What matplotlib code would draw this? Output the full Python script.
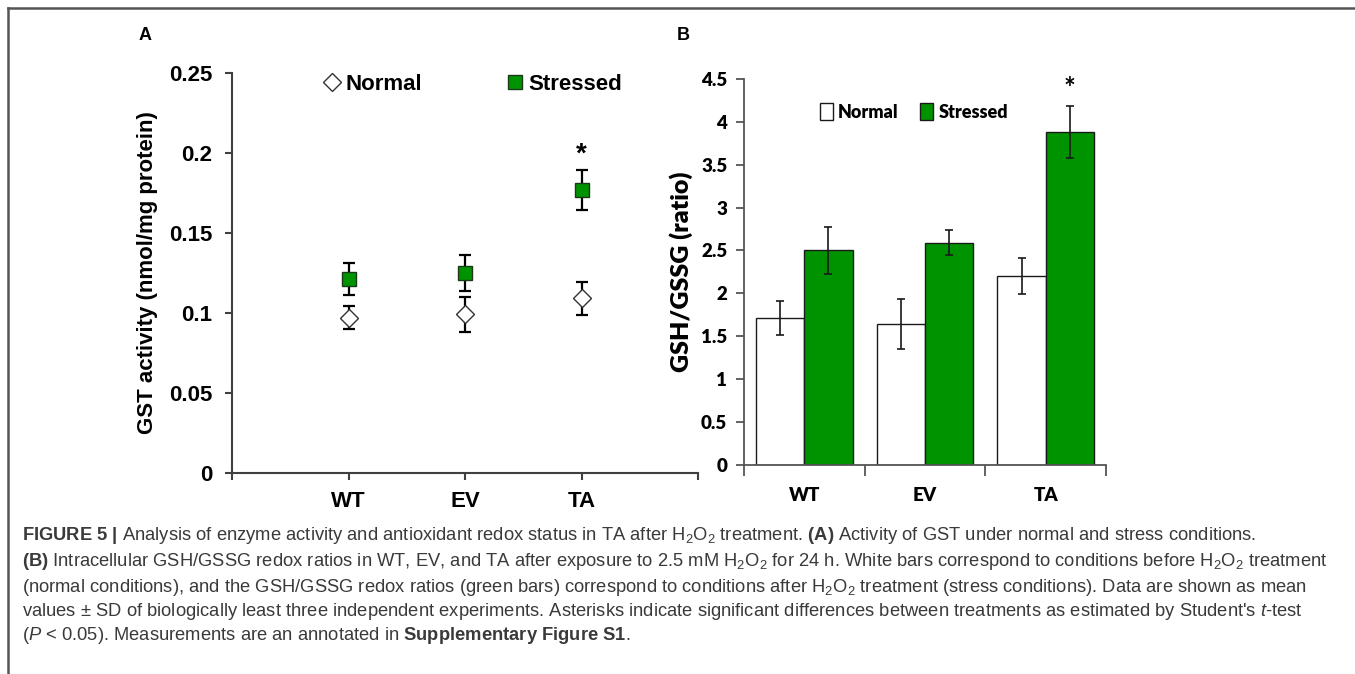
import numpy as np
import matplotlib
matplotlib.use("Agg")
import matplotlib.pyplot as plt
from matplotlib.lines import Line2D

# ---------------- data ----------------
categories = ["WT", "EV", "TA"]

# Panel A: GST activity (nmol/mg protein)
gst_normal = [0.097, 0.099, 0.109]
gst_normal_sd = [0.007, 0.011, 0.0105]
gst_stressed = [0.121, 0.125, 0.177]
gst_stressed_sd = [0.010, 0.0113, 0.0125]
gst_yticks = [0, 0.05, 0.1, 0.15, 0.2, 0.25]
gst_yticklabels = ["0", "0.05", "0.1", "0.15", "0.2", "0.25"]

# Panel B: GSH/GSSG ratio
ratio_normal = [1.71, 1.64, 2.20]
ratio_normal_sd = [0.20, 0.295, 0.21]
ratio_stressed = [2.50, 2.59, 3.88]
ratio_stressed_sd = [0.27, 0.145, 0.305]
ratio_yticks = [0, 0.5, 1, 1.5, 2, 2.5, 3, 3.5, 4, 4.5]
ratio_yticklabels = ["0", "0.5", "1", "1.5", "2", "2.5", "3", "3.5", "4", "4.5"]

significant = [False, False, True]

GREEN = "#009300"

plt.rcParams["mathtext.fontset"] = "custom"
plt.rcParams["mathtext.rm"] = "Liberation Sans"
plt.rcParams["mathtext.bf"] = "Liberation Sans:bold"
plt.rcParams["mathtext.it"] = "Liberation Sans:italic"
plt.rcParams["mathtext.default"] = "regular"

W, H = 1355, 674
fig = plt.figure(figsize=(W / 100, H / 100), dpi=100)

def fx(px):
    return px / W

def fy(py):
    return 1 - py / H

# outer frame (left + top)
fig.add_artist(Line2D([fx(8), fx(8)], [fy(8), 0], color="#555555", lw=1.8))
fig.add_artist(Line2D([fx(8), 1], [fy(8), fy(8)], color="#555555", lw=1.8))

# ---------------- Panel A ----------------
axA = fig.add_axes([fx(232), fy(472.7), fx(698) - fx(232), fy(72.7) - fy(472.7)])
xa = np.arange(1, len(categories) + 1)
AX_COL = "#404040"
axA.errorbar(xa, gst_normal, yerr=gst_normal_sd, fmt="none", ecolor="black",
             elinewidth=1.6, capsize=4, capthick=1.6, zorder=2)
axA.errorbar(xa, gst_stressed, yerr=gst_stressed_sd, fmt="none", ecolor="black",
             elinewidth=1.6, capsize=4, capthick=1.6, zorder=2)
hN, = axA.plot(xa, gst_normal, ls="none", marker="D", ms=9, mfc="white",
               mec="#333333", mew=1.0, zorder=3)
hS, = axA.plot(xa, gst_stressed, ls="none", marker="s", ms=10.5, mfc=GREEN,
               mec="#1a3a1a", mew=1.0, zorder=3)
axA.set_xlim(0, len(categories) + 1)
axA.set_ylim(0, 0.25)
axA.set_xticks(np.arange(0, len(categories) + 2))
axA.set_xticklabels([""] + categories + [""])
axA.set_yticks(gst_yticks)
axA.set_yticklabels(gst_yticklabels)
for s in ["top", "right"]:
    axA.spines[s].set_visible(False)
for s in ["left", "bottom"]:
    axA.spines[s].set_color(AX_COL)
    axA.spines[s].set_linewidth(1.5)
axA.tick_params(axis="both", direction="out", length=5, width=1.5, color=AX_COL)
axA.tick_params(axis="y", pad=9)
axA.tick_params(axis="x", pad=8)
for lab in axA.get_xticklabels() + axA.get_yticklabels():
    lab.set_fontfamily("Liberation Sans")
    lab.set_fontweight("bold")
    lab.set_fontsize(16)
axA.set_ylabel("GST activity (nmol/mg protein)", fontfamily="Liberation Sans",
               fontweight="bold", fontsize=16)
axA.yaxis.set_label_coords((158 - 232) / (698 - 232), 0.5)
for i, sig in enumerate(significant):
    if sig:
        axA.annotate("*", (xa[i], gst_stressed[i] + gst_stressed_sd[i]),
                     xytext=(0, 11), textcoords="offset points", ha="center",
                     va="center", fontsize=20, fontweight="bold",
                     fontfamily="Liberation Sans")
legA = axA.legend([hN, hS], ["Normal", "Stressed"], ncol=2, frameon=False,
                  loc="center", bbox_to_anchor=(fx(474), fy(84)),
                  bbox_transform=fig.transFigure,
                  prop={"family": "Liberation Sans", "weight": "bold", "size": 16},
                  handlelength=0.6, handletextpad=0.3, columnspacing=3.9,
                  markerscale=1.0)

# ---------------- Panel B ----------------
axB = fig.add_axes([fx(744), fy(464.7), fx(1106) - fx(744), fy(79) - fy(464.7)])
xb = np.arange(len(categories))
bw = 0.4
bN = axB.bar(xb - bw / 2, ratio_normal, width=bw, color="white", edgecolor="#1a1a1a",
             linewidth=1.0, yerr=ratio_normal_sd, error_kw=dict(ecolor="#1a1a1a",
             elinewidth=1.2, capsize=3, capthick=1.2), label="Normal", zorder=2)
bS = axB.bar(xb + bw / 2, ratio_stressed, width=bw, color=GREEN, edgecolor="#1a1a1a",
             linewidth=1.0, yerr=ratio_stressed_sd, error_kw=dict(ecolor="#1a1a1a",
             elinewidth=1.2, capsize=3, capthick=1.2), label="Stressed", zorder=2)
axB.set_xlim(-0.5, len(categories) - 0.5)
axB.set_ylim(0, 4.5)
axB.set_yticks(ratio_yticks)
axB.set_yticklabels(ratio_yticklabels)
axB.set_xticks(xb)
axB.set_xticklabels(categories)
axB.set_xticks(np.arange(-0.5, len(categories)), minor=True)
axB.tick_params(axis="x", which="major", length=0, pad=16)
axB.tick_params(axis="x", which="minor", length=8, width=1.3, color="#555555",
                direction="out")
axB.tick_params(axis="y", length=6, width=1.3, color="#555555", direction="out", pad=6)
for s in ["top", "right"]:
    axB.spines[s].set_visible(False)
for s in ["left", "bottom"]:
    axB.spines[s].set_color("#555555")
    axB.spines[s].set_linewidth(1.3)
for lab in axB.get_xticklabels() + axB.get_yticklabels():
    lab.set_fontfamily("Lato")
    lab.set_fontweight("heavy")
    lab.set_fontsize(13.5)
axB.set_ylabel("GSH/GSSG (ratio)", fontfamily="Lato", fontweight="heavy", fontsize=18)
axB.yaxis.set_label_coords((693 - 744) / (1106 - 744), 0.5)
for i, sig in enumerate(significant):
    if sig:
        axB.annotate("*", (xb[i] + bw / 2, ratio_stressed[i] + ratio_stressed_sd[i]),
                     xytext=(0, 12), textcoords="offset points", ha="center",
                     va="center", fontsize=20, fontweight="bold", fontfamily="Lato")
legB = axB.legend(handles=[bN, bS], labels=["Normal", "Stressed"], ncol=2,
                  frameon=False, loc="center", bbox_to_anchor=(fx(914), fy(112)),
                  bbox_transform=fig.transFigure,
                  prop={"family": "Lato", "weight": "heavy", "size": 13},
                  handlelength=0.7, handleheight=1.0, handletextpad=0.3,
                  columnspacing=1.2)

# panel letters
fig.text(fx(145), fy(36), "A", fontfamily="Liberation Sans", fontweight="bold",
         fontsize=13, ha="center", va="center")
fig.text(fx(683), fy(36), "B", fontfamily="Liberation Sans", fontweight="bold",
         fontsize=13, ha="center", va="center")

# ---------------- caption ----------------
cap_lines = [
    r"$\mathbf{FIGURE\ 5\ |}$ Analysis of enzyme activity and antioxidant redox status in TA after H$_2$O$_2$ treatment. $\mathbf{(A)}$ Activity of GST under normal and stress conditions.",
    r"$\mathbf{(B)}$ Intracellular GSH/GSSG redox ratios in WT, EV, and TA after exposure to 2.5 mM H$_2$O$_2$ for 24 h. White bars correspond to conditions before H$_2$O$_2$ treatment",
    r"(normal conditions), and the GSH/GSSG redox ratios (green bars) correspond to conditions after H$_2$O$_2$ treatment (stress conditions). Data are shown as mean",
    r"values $\pm$ SD of biologically least three independent experiments. Asterisks indicate significant differences between treatments as estimated by Student's $\mathit{t}$-test",
    r"($\mathit{P}$ < 0.05). Measurements are an annotated in $\mathbf{Supplementary\ Figure\ S1}$.",
]
cap_y = [535, 561, 587, 611, 636]
for line, yy in zip(cap_lines, cap_y):
    fig.text(fx(22), fy(yy), line, fontfamily="Liberation Sans", fontsize=13.2,
             color="#3a3a3a", ha="left", va="center")

fig.savefig("out.png", dpi=100)
